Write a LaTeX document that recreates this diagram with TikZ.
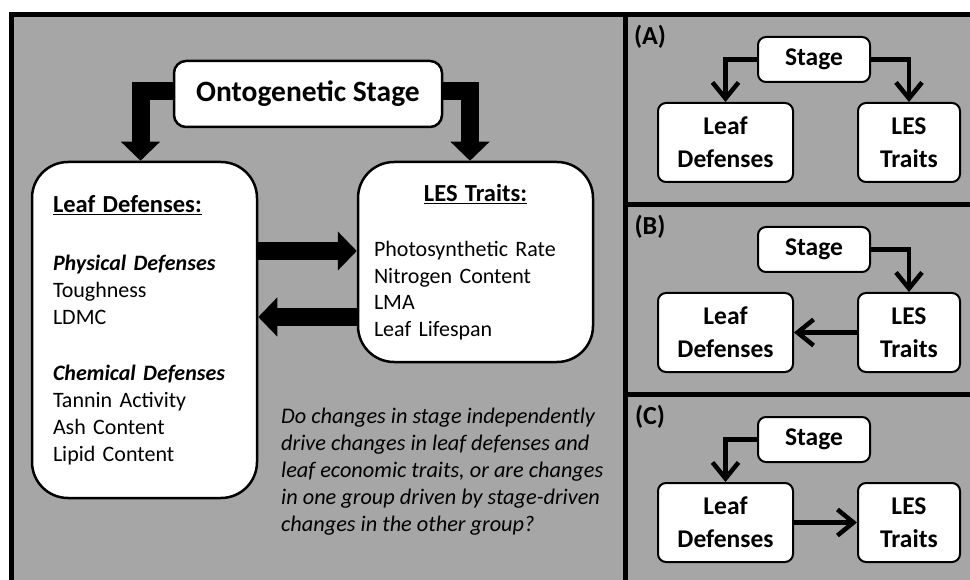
\documentclass[tikz,border=0pt]{standalone}
\usepackage{fontspec}
\setmainfont{Carlito}
\usepackage{xcolor}
\usetikzlibrary{arrows.meta}
\definecolor{panelgray}{RGB}{166,166,166}

\begin{document}
\begin{tikzpicture}[x=1pt, y=-1pt,
    roundbox/.style={draw=black, fill=white, line width=2.5pt, rounded corners=12pt, inner sep=0pt},
    bigbox/.style={roundbox, rounded corners=36pt},
    smallbox/.style={roundbox, rounded corners=8pt, line width=2pt, align=center, font=\fontsize{25.5}{33}\selectfont\bfseries},
    fatarrow/.style={line width=18pt, -{Triangle[width=38pt,length=19pt]}},
    thinarrow/.style={line width=4.5pt, -{Straight Barb[width=26pt,length=16pt]}},
    panellabel/.style={font=\fontsize{26}{30}\selectfont\bfseries, inner sep=0pt}]
    \fill[white] (0,0) rectangle (970,580);
    \useasboundingbox (0,0) rectangle (970,580);
    \clip (0,0) rectangle (970,580);
    \filldraw[fill=panelgray, draw=black, line width=5pt] (11.5,14.5) rectangle (990,600);
    \draw[line width=5pt] (625.5,14.5) -- (625.5,600);
    \foreach \y in {204.5,394.5}
    \draw[line width=5pt] (625.5,\y) -- (990,\y);

    \node[roundbox, minimum width=268pt, minimum height=66pt, font=\fontsize{29.5}{33}\selectfont\bfseries] (onto) at (308,94) {Ontogenetic Stage};
    \node[bigbox, minimum height=336pt, text width=191pt, inner xsep=17pt, align=left, font=\fontsize{22}{27}\selectfont] (leafdef) at (144.5,330) {\hspace*{4pt}{\fontsize{24.5}{27}\selectfont\bfseries\underline{Leaf Defenses:}}\\[31pt]
        \hspace*{4pt}\textbf{\textit{Physical Defenses}}\\
        \hspace*{4pt}Toughness\\
        \hspace*{4pt}LDMC\\[29pt]
        \hspace*{4pt}\textbf{\textit{Chemical Defenses}}\\
        \hspace*{4pt}Tannin Activity\\
        \hspace*{4pt}Ash Content\\
        \hspace*{4pt}Lipid Content};
    \node[bigbox, minimum height=200pt, text width=211pt, inner xsep=12pt, align=left, font=\fontsize{22}{26.5}\selectfont] (lestraits) at (475.5,262) {\makebox[\linewidth]{\fontsize{24.5}{27}\selectfont\bfseries\underline{LES Traits:}}\\[28.5pt]
        \hspace*{4pt}Photosynthetic Rate\\
        \hspace*{4pt}Nitrogen Content\\
        \hspace*{4pt}LMA\\
        \hspace*{4pt}Leaf Lifespan};

    \draw[fatarrow] ([yshift=3pt]onto.west) -| ([xshift=-4pt]leafdef.north);
    \draw[fatarrow] ([yshift=3pt]onto.east) -| ([xshift=-5.5pt]lestraits.north);
    \coordinate (fwd) at ([yshift=11pt]lestraits.west);
    \coordinate (back) at ([yshift=-55pt]lestraits.west);
    \draw[fatarrow] (leafdef.east |- fwd) -- (fwd);
    \draw[fatarrow] (back) -- (leafdef.east |- back);

    \node[anchor=north west, align=left, inner sep=0pt, font=\fontsize{22.3}{27}\selectfont\itshape] (question) at (281,408) {Do changes in stage independently\\
        drive changes in leaf defenses and\\
        leaf economic traits, or are changes\\
        in one group driven by stage-driven\\
        changes in the other group?};

    \foreach \lab/\dy in {A/0,B/190,C/380}{
        \node[panellabel] (label\lab) at (650,37+\dy) {(\lab)};
        \node[smallbox, minimum width=112pt, minimum height=45pt] (stage\lab) at (814,59.5+\dy) {Stage};
        \node[smallbox, minimum width=135pt, minimum height=79pt] (leaf\lab) at (725.5,142.5+\dy) {Leaf\\Defenses};
        \node[smallbox, minimum width=102pt, minimum height=79pt] (les\lab) at (909,142.5+\dy) {LES\\Traits};
    }
    \draw[thinarrow] (stageA.west) -| (leafA.north);
    \draw[thinarrow] (stageA.east) -| (lesA.north);
    \draw[thinarrow] (stageB.east) -| (lesB.north);
    \draw[thinarrow] (lesB.west) -- (leafB.east);
    \draw[thinarrow] (stageC.west) -| (leafC.north);
    \draw[thinarrow] (leafC.east) -- (lesC.west);
\end{tikzpicture}
\end{document}
